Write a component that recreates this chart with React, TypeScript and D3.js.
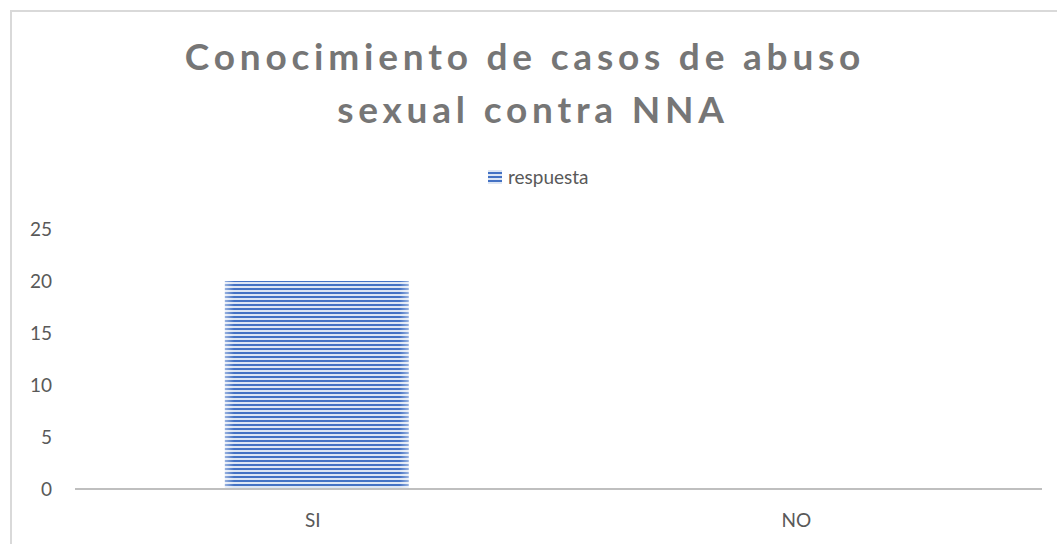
import React from "react";
import * as d3 from "d3";

const categories = ["SI", "NO"];
const values = [20, 0];
const seriesName = "respuesta";
const yTicks = [0, 5, 10, 15, 20, 25];
const titleLines = ["Conocimiento de casos de abuso", "sexual contra NNA"];

export default function App() {
  const W = 1057, H = 544;
  const left = 75, right = 1042, top = 229, bottom = 489;
  const x = d3.scaleBand<string>().domain(categories).range([left, right]).padding(0);
  const y = d3.scaleLinear().domain([0, 25]).range([bottom, top]);
  const barW = x.bandwidth() * 0.38;
  const font = "Lato, 'Open Sans', sans-serif";
  return (
    <svg width={W} height={H} style={{ position: "absolute", left: 0, top: 0 }}>
      <defs>
        <pattern id="stripes" patternUnits="userSpaceOnUse" width="8" height="4">
          <rect width="8" height="4" fill="#dde6f4" />
          <rect width="8" height="2" fill="#4472c4" />
        </pattern>
        <linearGradient id="edge" x1="0" x2="1" y1="0" y2="0">
          <stop offset="0" stopColor="#ffffff" stopOpacity="0.45" />
          <stop offset="0.05" stopColor="#ffffff" stopOpacity="0" />
          <stop offset="0.95" stopColor="#ffffff" stopOpacity="0" />
          <stop offset="1" stopColor="#ffffff" stopOpacity="0.45" />
        </linearGradient>
      </defs>
      <rect x={0} y={0} width={W} height={H} fill="#ffffff" />
      <rect x={11} y={11} width={W + 10} height={H + 10} fill="none" stroke="#d9d9d9" strokeWidth={2} />
      {titleLines.map((t, i) => (
        <text key={i} x={i === 0 ? 525 : 533} y={70 + i * 53} textAnchor="middle" fontFamily={font} fontWeight="bold"
          fontSize={37} letterSpacing={4.8} fill="#767676">{t}</text>
      ))}
      <rect x={488} y={170} width={14} height={14} fill="url(#stripes)" />
      <text x={508} y={184} fontFamily={font} fontSize={19} fill="#595959">{seriesName}</text>
      {yTicks.map(t => (
        <text key={t} x={52} y={y(t) + 7} textAnchor="end" fontFamily={font} fontSize={19} fill="#595959">{t}</text>
      ))}
      {categories.map((c, i) => {
        const cx = (x(c) as number) + x.bandwidth() / 2;
        const h = bottom - y(values[i]);
        return (
          <g key={c}>
            {values[i] > 0 && (
              <>
                <rect x={cx - barW / 2} y={y(values[i])} width={barW} height={h} fill="url(#stripes)" />
                <rect x={cx - barW / 2} y={y(values[i])} width={barW} height={h} fill="url(#edge)" />
              </>
            )}
            <text x={cx - 4} y={527} textAnchor="middle" fontFamily={font} fontSize={19} fill="#595959">{c}</text>
          </g>
        );
      })}
      <line x1={left} x2={right} y1={bottom} y2={bottom} stroke="#bfbfbf" strokeWidth={2} />
    </svg>
  );
}
